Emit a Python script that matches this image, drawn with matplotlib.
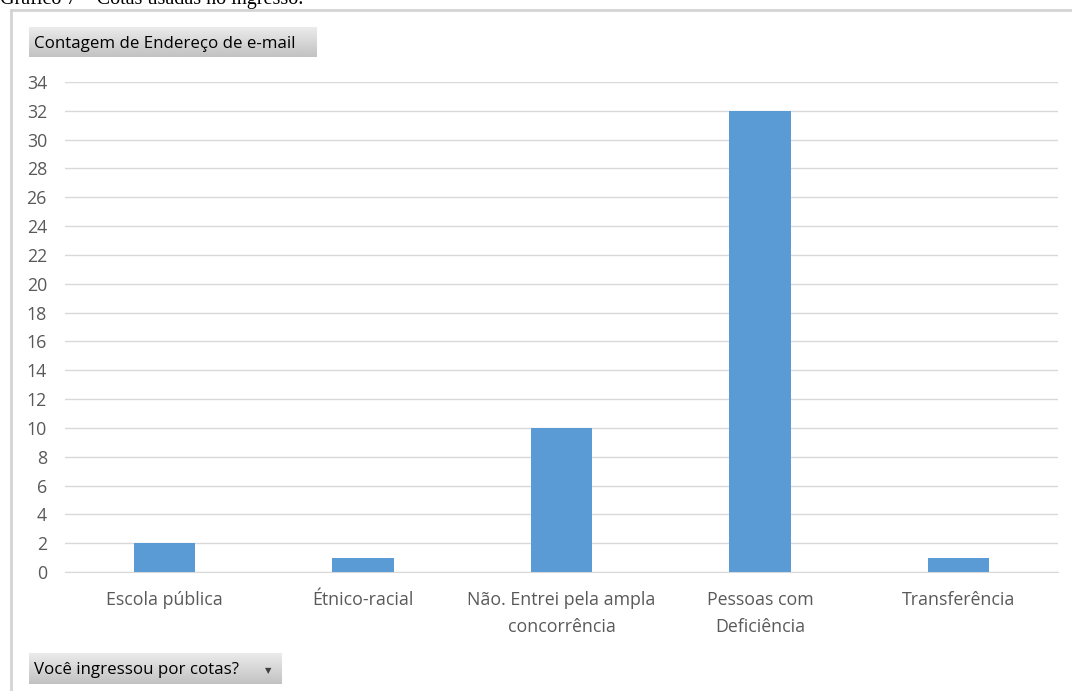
import numpy as np
import matplotlib.pyplot as plt

# Contagem de respostas por tipo de ingresso
categorias = ["Escola pública", "Étnico-racial", "Não. Entrei pela ampla\nconcorrência",
              "Pessoas com\nDeficiência", "Transferência"]
contagem = [2, 1, 10, 32, 1]
yticks = list(range(0, 35, 2))

plt.rcParams['font.family'] = ['Open Sans', 'DejaVu Sans']

W, H = 1072, 691
fig = plt.figure(figsize=(W / 100, H / 100), dpi=100)


def px(x0, y0, x1, y1):
    # pixel box (top-left origin) -> figure rect
    return [x0 / W, 1 - y1 / H, (x1 - x0) / W, (y1 - y0) / H]


# title cut at the top edge
fig.text(0 / W, 1 - 4 / H, "Gráfico 7 – Cotas usadas no ingresso.", family='Liberation Serif',
         fontsize=14.5, va='baseline', ha='left', color='black')

# outer frame (top and left edges only)
fig.add_artist(plt.Line2D([11 / W, 1], [1 - 10 / H, 1 - 10 / H], color='#d4d4d4', lw=2))
fig.add_artist(plt.Line2D([11 / W, 11 / W], [0, 1 - 10 / H], color='#d4d4d4', lw=2))

ax = fig.add_axes(px(65, 82, 1058, 572))
x = np.arange(len(categorias))
ax.bar(x, contagem, width=0.31, color='#5B9BD5', zorder=3)
ax.set_xlim(-0.5, len(categorias) - 0.5)
ax.set_ylim(0, 34)
ax.set_yticks(yticks)
ax.set_xticks(x)
ax.set_xticklabels(categorias, linespacing=1.6)
ax.yaxis.grid(True, color='#d9d9d9', lw=1, zorder=0)
for s in ['top', 'right', 'left']:
    ax.spines[s].set_visible(False)
ax.spines['bottom'].set_color('#d9d9d9')
ax.tick_params(axis='both', length=0, labelsize=12.8, labelcolor='#595959')
ax.tick_params(axis='y', pad=13)
ax.tick_params(axis='x', pad=14)


def botao(rect, texto, seta=False):
    b = fig.add_axes(rect)
    grad = np.linspace(0.92, 0.76, 50).reshape(-1, 1)
    b.imshow(grad, aspect='auto', cmap='gray', vmin=0, vmax=1, extent=[0, 1, 0, 1])
    b.set_axis_off()
    b.text(0.018, 0.45, texto, fontsize=12.2, va='center', ha='left', color='black',
           transform=b.transAxes)
    if seta:
        b.text(0.945, 0.45, "▼", fontsize=6, va='center', ha='center', color='#404040',
               family='DejaVu Sans', transform=b.transAxes)


botao(px(29, 27, 317, 57), "Contagem de Endereço de e-mail")
botao(px(29, 653, 282, 684), "Você ingressou por cotas?", seta=True)

fig.savefig("out.png", dpi=100)
